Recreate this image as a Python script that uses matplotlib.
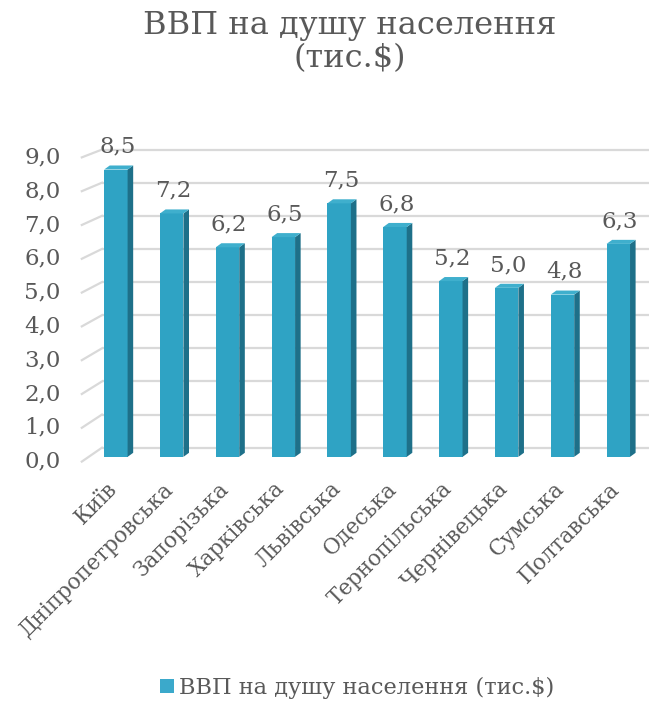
import matplotlib
matplotlib.use("Agg")
import matplotlib.pyplot as plt
from matplotlib.patches import Polygon, Patch

categories = ["Київ", "Дніпропетровська", "Запорізька", "Харківська", "Львівська",
              "Одеська", "Тернопільська", "Чернівецька", "Сумська", "Полтавська"]
values = [8.5, 7.2, 6.2, 6.5, 7.5, 6.8, 5.2, 5.0, 4.8, 6.3]
y_ticks = [0, 1, 2, 3, 4, 5, 6, 7, 8, 9]
title_lines = ["ВВП на душу населення", "(тис.$)"]
series_name = "ВВП на душу населення (тис.$)"

FONT = ["DejaVu Serif"]
TXT = "#595959"
FRONT = "#2FA3C4"
SIDE = "#1E7089"
TOP = "#3FAFCD"
GRID = "#D9D9D9"

fig = plt.figure(figsize=(6.53, 7.17), dpi=100)
ax = fig.add_axes([74 / 653, (717 - 467) / 717, 575 / 653, 324.5 / 717])
ax.set_xlim(-0.75, 9.55)
ax.set_ylim(-0.3, 9.3)
ax.axis("off")

def fmt(v):
    return f"{v:.1f}".replace(".", ",")

# back-wall gridlines with slanted side-wall segments
for v in y_ticks:
    back = v + 0.27 - 0.02 * v
    ax.plot([-0.25, 9.55], [back, back], color=GRID, lw=1.6, zorder=1, solid_capstyle="butt")
    ax.plot([-0.61, -0.25], [v - 0.14, back], color=GRID, lw=1.6, zorder=1)
    ax.text(-0.99, v - 0.14, fmt(v), ha="right", va="center", fontsize=16.5,
            family=FONT, color=TXT, clip_on=False)

w = 0.42
dx = 0.1
dy = 0.12
xs = list(range(len(values)))
bars = ax.bar(xs, values, width=w, color=FRONT, zorder=3)
for x, h in zip(xs, values):
    side = Polygon([(x + w / 2, 0), (x + w / 2 + dx, dy), (x + w / 2 + dx, h + dy), (x + w / 2, h)],
                   closed=True, facecolor=SIDE, edgecolor="none", zorder=3)
    top = Polygon([(x - w / 2, h), (x - w / 2 + dx, h + dy), (x + w / 2 + dx, h + dy), (x + w / 2, h)],
                  closed=True, facecolor=TOP, edgecolor="none", zorder=4)
    ax.add_patch(side)
    ax.add_patch(top)
    ax.text(x + 0.03, h + 0.5, fmt(h), ha="center", va="baseline", fontsize=16.5,
            family=FONT, color=TXT)

for x, c in zip(xs, categories):
    ax.text(x - 0.17, -0.62, c, ha="right", va="top", rotation=45, rotation_mode="anchor",
            fontsize=15.5, family=FONT, color=TXT, clip_on=False)

fig.text(0.536, 1 - 34 / 717, title_lines[0], ha="center", va="baseline", fontsize=23,
         family=FONT, color=TXT)
fig.text(0.536, 1 - 67 / 717, title_lines[1], ha="center", va="baseline", fontsize=23,
         family=FONT, color=TXT)

fig.legend(handles=[Patch(facecolor="#3BA9CB", label=series_name)], loc="center",
           bbox_to_anchor=(0.547, 1 - 688 / 717), frameon=False,
           prop={"family": FONT, "size": 16.2}, labelcolor=TXT,
           handlelength=0.6, handleheight=0.6, handletextpad=0.25)

fig.savefig("out.png", dpi=100)
